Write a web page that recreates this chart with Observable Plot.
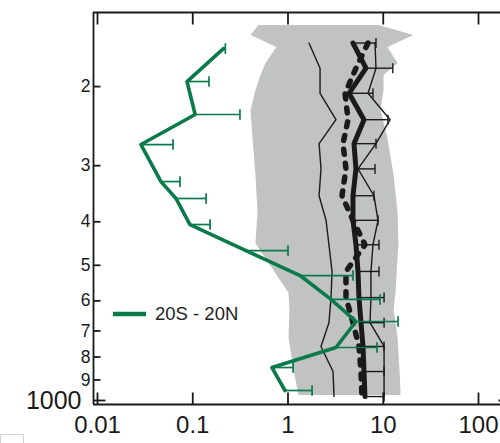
<!DOCTYPE html>
<html><head><meta charset="utf-8">
<script src="https://cdn.jsdelivr.net/npm/d3@7"></script>
<script src="https://cdn.jsdelivr.net/npm/@observablehq/plot@0.6"></script>
<style>
html,body{margin:0;padding:0;background:#fff;overflow:hidden}
#wrap{position:relative;width:500px;height:443px;overflow:hidden}
#legend{position:absolute;left:113px;top:302px;height:24px;display:flex;align-items:center;white-space:nowrap;
  font:18.5px "Liberation Sans",Arial,sans-serif;color:#222}
#legend span{margin-left:9px}
#box{position:absolute;left:0;top:434px;width:24px;height:12px;border:1px solid #d4d4d4;box-sizing:border-box}
</style></head>
<body><div id="wrap"><div id="chart"></div>
<div id="legend"><svg width="33" height="24"><line x1="0" x2="33" y1="12" y2="12" stroke="#0a7a4a" stroke-width="4.3"/></svg><span>20S - 20N</span></div>
<div id="box"></div></div>
<script>
// ---- data (pressure in hPa, values on log x axis) ----
const greenP   = [164.6, 194.9, 230.8, 269.2, 325.5, 355, 405.7, 463.6, 526.9, 595.6, 667, 762, 844.5, 950];
const greenV   = [0.21, 0.087, 0.106, 0.0286, 0.0464, 0.0667, 0.0935, 0.362, 1.34, 2.83, 5.17, 3.19, 0.679, 0.93];
const greenErr = [0.22, 0.148, 0.313, 0.062, 0.0735, 0.138, 0.152, 1.0, 4.81, 9.25, 14.3, 8.6, 1.13, 1.79];

const blackP    = [160, 182, 207, 237, 268, 305, 350, 397, 450, 516, 590, 671, 758, 862, 980];
const meanV     = [4.81, 6.59, 4.37, 6.28, 4.93, 5.17, 4.81, 4.81, 5.17, 5.43, 5.56, 5.84, 6.13, 6.28, 6.43];
const meanErr   = [8.39, 12.6, 7.80, 11.2, 8.39, 8.19, 7.99, 8.81, 9.02, 9.02, 10.2, 10.2, 10.2, 10.2, 10.2];
const dottedV   = [6.92, 5.17, 3.97, 4.27, 3.78, 4.06, 3.69, 4.81, 6.43, 4.06, 4.06, 4.81, 5.56, 5.84, 5.98];
const thinLeft  = [1.66, 2.17, 2.17, 3.19, 2.12, 2.22, 2.12, 2.51, 2.69, 2.90, 2.83, 2.69, 2.22, 2.97, 3.04];
const thinRight = [8.19, 8.39, 6.92, 11.8, 8.39, 5.43, 7.99, 8.81, 7.80, 7.43, 7.43, 7.26, 10.2, 10.2, 10.2];

const rangeP  = [146.3, 154.0, 163.7, 177.7, 189.0, 204.1, 226.1, 261.0, 315.6, 381.5, 447.1, 577.8, 630.4, 724.0, 857.4, 974.7];
const rangeLo = [0.496, 0.409, 0.767, 0.588, 0.521, 0.461, 0.409, 0.429, 0.461, 0.484, 0.461, 1.024, 1.049, 1.024, 1.156, 1.305];
const rangeHi = [9.02, 21.0, 11.2, 14.3, 10.2, 10.2, 9.47, 11.2, 13.0, 14.3, 14.6, 13.6, 13.0, 14.3, 15.0, 15.4];

const xTicks = [0.01, 0.1, 1, 10, 100];
const xTickLabels = ["0.01", "0.1", "1", "10", "100"];
const yTicks = [200, 300, 400, 500, 600, 700, 800, 900];
const yTickLabels = ["2", "3", "4", "5", "6", "7", "8", "9"];
const yBottomTick = [1000];
const yBottomLabel = ["1000"];

// ---- build tables ----
const green = greenP.map((p, i) => ({p, v: greenV[i], err: greenErr[i]}));
const black = blackP.map((p, i) => ({p, mean: meanV[i], err: meanErr[i], dot: dottedV[i], lo: thinLeft[i], hi: thinRight[i]}));
const range = rangeP.map((p, i) => ({p, lo: rangeLo[i], hi: rangeHi[i]}));

const GREEN = "#0a7a4a", INK = "#1a1a1a", GRAY = "#c1c3c3";
const xDomain = [0.009078, 170.2];
const yDomain = [136.8, 1020.7];

const vline = {draw(ctx, size) { const r = Math.sqrt(size / Math.PI); ctx.moveTo(0, -r); ctx.lineTo(0, r); }};
const hline = {draw(ctx, size) { const r = Math.sqrt(size / Math.PI); ctx.moveTo(-r, 0); ctx.lineTo(r, 0); }};

const chart = Plot.plot({
  width: 500, height: 443,
  marginLeft: 93, marginRight: 0, marginTop: 12, marginBottom: 39,
  style: {fontFamily: "'Liberation Sans', Arial, sans-serif", background: "#fff", overflow: "visible"},
  x: {type: "log", domain: xDomain, axis: null},
  y: {type: "log", domain: yDomain, reverse: true, axis: null},
  marks: [
    Plot.areaX(range, {y: "p", x1: "lo", x2: "hi", fill: GRAY, curve: "linear"}),
    Plot.line(black, {x: "lo", y: "p", stroke: INK, strokeWidth: 1.4}),
    Plot.line(black, {x: "hi", y: "p", stroke: INK, strokeWidth: 1.4}),
    Plot.link(black, {x1: "mean", x2: "err", y1: "p", y2: "p", stroke: INK, strokeWidth: 1.4}),
    Plot.dot(black, {x: "err", y: "p", symbol: vline, r: 5, fill: "none", stroke: INK, strokeWidth: 1.4}),
    Plot.line(black, {x: "dot", y: "p", stroke: INK, strokeWidth: 5.5, strokeDasharray: "5,9"}),
    Plot.line(black, {x: "mean", y: "p", stroke: INK, strokeWidth: 5}),
    Plot.link(green, {x1: "v", x2: "err", y1: "p", y2: "p", stroke: GREEN, strokeWidth: 1.7}),
    Plot.dot(green, {x: "err", y: "p", symbol: vline, r: 5.3, fill: "none", stroke: GREEN, strokeWidth: 1.7}),
    Plot.line(green, {x: "v", y: "p", stroke: GREEN, strokeWidth: 3.6}),
    // frame lines
    Plot.ruleY([yDomain[0], yDomain[1]], {stroke: INK, strokeWidth: 1.8}),
    Plot.ruleX([xDomain[0]], {stroke: INK, strokeWidth: 1.8}),
    // x ticks (inward) top & bottom
    Plot.dot(xTicks, {x: d => d, frameAnchor: "bottom", dy: -6, symbol: vline, r: 6, fill: "none", stroke: INK, strokeWidth: 1.8}),
    Plot.dot(xTicks, {x: d => d, frameAnchor: "top", dy: 6, symbol: vline, r: 6, fill: "none", stroke: INK, strokeWidth: 1.8}),
    Plot.text(xTicks, {x: d => d, text: (d, i) => xTickLabels[i], frameAnchor: "bottom", dy: 28, fontSize: 24, fill: INK}),
    // y ticks (inward) left
    Plot.dot(yTicks, {y: d => d, frameAnchor: "left", dx: 3.5, symbol: hline, r: 3.5, fill: "none", stroke: INK, strokeWidth: 1.8}),
    Plot.dot(yBottomTick, {y: d => d, frameAnchor: "left", dx: 6, symbol: hline, r: 6, fill: "none", stroke: INK, strokeWidth: 1.8}),
    Plot.dot(yBottomTick, {y: d => d, frameAnchor: "right", dx: 4, symbol: hline, r: 6, fill: "none", stroke: INK, strokeWidth: 1.8}),
    Plot.text(yTicks, {y: d => d, text: (d, i) => yTickLabels[i], frameAnchor: "left", dx: -3, textAnchor: "end", fontSize: 17.5, fill: INK}),
    Plot.text(yBottomTick, {y: d => d, text: (d, i) => yBottomLabel[i], frameAnchor: "left", dx: -12, textAnchor: "end", fontSize: 25, fill: INK})
  ]
});
document.getElementById("chart").appendChild(chart);
</script>
</body></html>
